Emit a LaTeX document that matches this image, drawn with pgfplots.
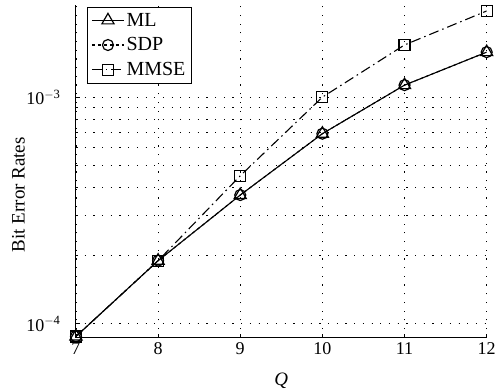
\documentclass[border=0pt]{standalone}
\usepackage{fontspec}
\setmainfont{Liberation Serif}
\usepackage{pgfplots}
\pgfplotsset{compat=1.18}
\begin{document}
\begin{tikzpicture}
\begin{axis}[
  scale only axis, width=411pt, height=333pt,
  ymode=log, xmin=7, xmax=12, ymin=8.68e-5, ymax=2.55e-3,
  axis x line*=bottom, axis y line*=left,
  axis line style={line width=1pt, -},
  xtick={7,8,9,10,11,12}, xticklabels={7,8,9,10,11,12},
  ytick={1e-4,1e-3}, yticklabels={10\textsuperscript{$-$4},10\textsuperscript{$-$3}},
  tick style={black, line width=0.8pt},
  major tick length=4pt, minor tick length=2.5pt,
  tick align=inside,
  grid=both,
  major grid style={black, line width=0.8pt, dash pattern=on 1.2pt off 7.5pt},
  minor grid style={black, line width=0.8pt, dash pattern=on 1.2pt off 7.5pt},
  tick label style={font=\fontsize{18}{20}\selectfont},
  yticklabel style={xshift=-12pt},
  xticklabel style={yshift=-1pt},
  xlabel={\textit{Q}}, ylabel={Bit Error Rates},
  label style={font=\fontsize{19}{21}\selectfont},
  xlabel style={at={(axis description cs:0.5,-0.128)}, anchor=center},
  ylabel style={at={(axis description cs:-0.14,0.43)}, anchor=center},
  legend style={at={(axis description cs:0.027,0.995)}, anchor=north west,
    draw=black, line width=0.8pt, font=\fontsize{20}{22}\selectfont,
    row sep=6pt, inner sep=4pt, cells={anchor=west}},
  legend image code/.code={\draw[mark repeat=2,mark phase=2] plot coordinates {(0pt,0pt) (16pt,0pt) (32pt,0pt)};},
]
\addplot[black, line width=1.1pt, mark=triangle, mark size=7pt, mark options={solid, line width=1.2pt}]
  coordinates {(7,8.8e-5) (8,1.9e-4) (9,3.7e-4) (10,6.9e-4) (11,1.13e-3) (12,1.58e-3)};
\addlegendentry{ML}
\addplot[black, line width=1.1pt, dashed, mark=o, mark size=5.5pt, mark options={solid, line width=1.2pt}]
  coordinates {(7,8.8e-5) (8,1.9e-4) (9,3.7e-4) (10,6.9e-4) (11,1.13e-3) (12,1.58e-3)};
\addlegendentry{SDP}
\addplot[black, line width=1.1pt, dash pattern=on 10pt off 4pt on 1.5pt off 4pt, mark=square, mark size=5.5pt, mark options={solid, line width=1.2pt}]
  coordinates {(7,8.8e-5) (8,1.9e-4) (9,4.5e-4) (10,1.0e-3) (11,1.7e-3) (12,2.4e-3)};
\addlegendentry{MMSE}
\end{axis}
\path (current axis.south west) ++(-76pt,-52pt) rectangle ++(499pt,390pt);
\end{tikzpicture}
\end{document}
